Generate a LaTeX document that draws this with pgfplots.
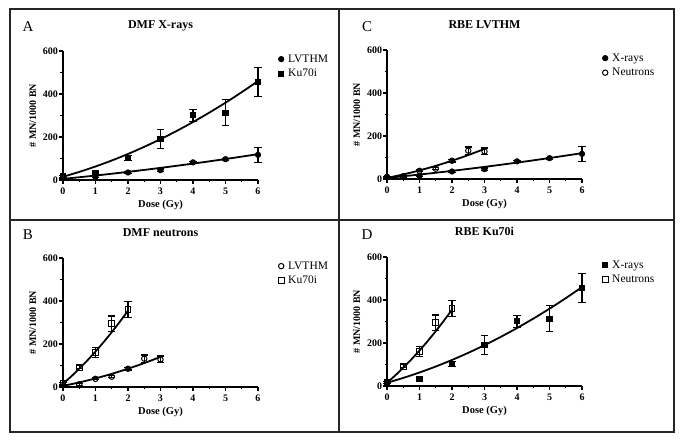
\documentclass[border=0pt]{standalone}
\usepackage{fontspec}
\setmainfont{Liberation Serif}
\usepackage{pgfplots}
\pgfplotsset{compat=1.18}

\pgfplotsset{
  panel/.style={
    scale only axis, width=195pt, height=129pt,
    xmin=0, xmax=6, ymin=0, ymax=600,
    xtick={0,1,2,3,4,5,6}, ytick={0,200,400,600},
    minor x tick num=1, minor y tick num=1,
    axis x line=bottom, axis y line=left,
    axis line style={-, line width=1.3pt},
    tick align=outside, tick style={line width=1.1pt, black},
    major tick length=4pt, minor tick length=2.5pt,
    /pgf/number format/assume math mode=true,
    tick label style={font=\bfseries\fontsize{10}{12}\selectfont},
    yticklabel style={inner sep=0.8pt},
    xlabel={Dose (Gy)}, ylabel={\# MN/1000 BN},
    xlabel style={at={(axis description cs:0.5,-0.19)}, anchor=center, font=\bfseries\fontsize{10.5}{12}\selectfont},
    ylabel style={at={(axis description cs:-0.155,0.5)}, anchor=center, font=\bfseries\fontsize{10}{12}\selectfont},
    title style={at={(axis description cs:0.5,1.15)}, anchor=center, font=\bfseries\fontsize{12}{14}\selectfont},
    clip=false,
    legend style={draw=none, fill=none, inner sep=0pt, at={(axis description cs:1.10,0.985)}, anchor=north west,
      font=\fontsize{11.5}{13}\selectfont, row sep=2.5pt, nodes={inner sep=1.5pt}},
    legend cell align=left,
  },
  pts/.style={only marks, line width=1pt,
    legend image code/.code={\path (-3pt,0pt) (5pt,0pt); \draw[##1] plot coordinates {(0pt,0pt)};},
    error bars/y dir=both, error bars/y explicit,
    error bars/error bar style={line width=1.1pt, black},
    error bars/error mark options={rotate=90, mark size=3.6pt, line width=1.1pt, black}},
  fit/.style={black, line width=1.8pt, smooth, forget plot, mark=none},
  fc/.style={mark=*, mark size=2.6pt, black, fill=black},
  fs/.style={mark=square*, mark size=2.6pt, black, fill=black},
  oc/.style={mark=o, mark size=2.7pt, black, mark options={fill=white}},
  os/.style={mark=square, mark size=2.9pt, black, mark options={fill=white}},
}

\begin{document}
\begin{tikzpicture}[x=1pt,y=1pt]
\path[use as bounding box] (0,0) rectangle (685,441);
\draw[line width=1.3pt, black!85] (10,432) rectangle (674,9);
\draw[line width=1.3pt, black!85] (339,432) -- (339,9);
\draw[line width=1.3pt, black!85] (10,221) -- (674,221);

\node[font=\fontsize{15}{18}\selectfont] at (28,414) {A};
\node[font=\fontsize{15}{18}\selectfont] at (28,206) {B};
\node[font=\fontsize{15}{18}\selectfont] at (367,414) {C};
\node[font=\fontsize{15}{18}\selectfont] at (367,206) {D};

% A: DMF X-rays
\begin{axis}[panel, at={(63pt,261pt)}, anchor=south west, title={DMF X-rays}]
\addplot[fit] coordinates {(0,5) (1,20.7) (2,37.8) (3,56.3) (4,76.2) (5,97.5) (6,120.2)};
\addplot[fit] coordinates {(0,15) (0.5,37.6) (1,62.8) (1.5,90.6) (2,121.1) (2.5,154.3) (3,190) (3.5,228.4) (4,269.5) (4.5,313.2) (5,359.5) (5.5,408.5) (6,460.1)};
\addplot[pts, fc] coordinates {(0,8) +- (0,3) (1,15) +- (0,4) (2,35) +- (0,4) (3,46) +- (0,5) (4,82) +- (0,6) (5,97) +- (0,5) (6,117) +- (0,35)};
\addlegendentry{LVTHM}
\addplot[pts, fs] coordinates {(0,17) +- (0,4) (1,34) +- (0,4) (2,104) +- (0,12) (3,189) +- (0,44) (4,301) +- (0,27) (5,313) +- (0,60) (6,457) +- (0,67)};
\addlegendentry{Ku70i}
\end{axis}

% B: DMF neutrons
\begin{axis}[panel, at={(63pt,54pt)}, anchor=south west, title={DMF neutrons}]
\addplot[fit] coordinates {(0,5) (0.5,21.25) (1,40) (1.5,61.25) (2,85) (2.5,111.25) (3,140)};
\addplot[fit] coordinates {(0,15) (0.25,48.75) (0.5,85) (0.75,123.75) (1,165) (1.25,208.75) (1.5,255) (1.75,303.75) (2,355)};
\addplot[pts, oc] coordinates {(0,10) +- (0,3) (0.5,13) +- (0,4) (1,38) +- (0,5) (1.5,48) +- (0,5) (2,85) +- (0,6) (2.5,132) +- (0,17) (3,128) +- (0,16)};
\addlegendentry{LVTHM}
\addplot[pts, os] coordinates {(0,17) +- (0,5) (0.5,92) +- (0,6) (1,160) +- (0,22) (1.5,295) +- (0,35) (2,362) +- (0,37)};
\addlegendentry{Ku70i}
\end{axis}

% C: RBE LVTHM
\begin{axis}[panel, at={(387pt,262pt)}, anchor=south west, title={RBE LVTHM}]
\addplot[fit] coordinates {(0,5) (1,20.7) (2,37.8) (3,56.3) (4,76.2) (5,97.5) (6,120.2)};
\addplot[fit] coordinates {(0,5) (0.5,21.25) (1,40) (1.5,61.25) (2,85) (2.5,111.25) (3,140)};
\addplot[pts, fc] coordinates {(0,8) +- (0,3) (1,15) +- (0,4) (2,35) +- (0,4) (3,46) +- (0,5) (4,82) +- (0,6) (5,97) +- (0,5) (6,117) +- (0,35)};
\addlegendentry{X-rays}
\addplot[pts, oc] coordinates {(0,10) +- (0,3) (0.5,13) +- (0,4) (1,38) +- (0,5) (1.5,48) +- (0,5) (2,85) +- (0,6) (2.5,132) +- (0,17) (3,128) +- (0,16)};
\addlegendentry{Neutrons}
\end{axis}

% D: RBE Ku70i
\begin{axis}[panel, at={(387pt,55pt)}, anchor=south west, title={RBE Ku70i}]
\addplot[fit] coordinates {(0,15) (0.5,37.6) (1,62.8) (1.5,90.6) (2,121.1) (2.5,154.3) (3,190) (3.5,228.4) (4,269.5) (4.5,313.2) (5,359.5) (5.5,408.5) (6,460.1)};
\addplot[fit] coordinates {(0,15) (0.25,48.75) (0.5,85) (0.75,123.75) (1,165) (1.25,208.75) (1.5,255) (1.75,303.75) (2,355)};
\addplot[pts, fs] coordinates {(0,17) +- (0,4) (1,34) +- (0,4) (2,104) +- (0,12) (3,189) +- (0,44) (4,301) +- (0,27) (5,313) +- (0,60) (6,457) +- (0,67)};
\addlegendentry{X-rays}
\addplot[pts, os] coordinates {(0,17) +- (0,5) (0.5,92) +- (0,6) (1,160) +- (0,22) (1.5,295) +- (0,35) (2,362) +- (0,37)};
\addlegendentry{Neutrons}
\end{axis}
\end{tikzpicture}
\end{document}
